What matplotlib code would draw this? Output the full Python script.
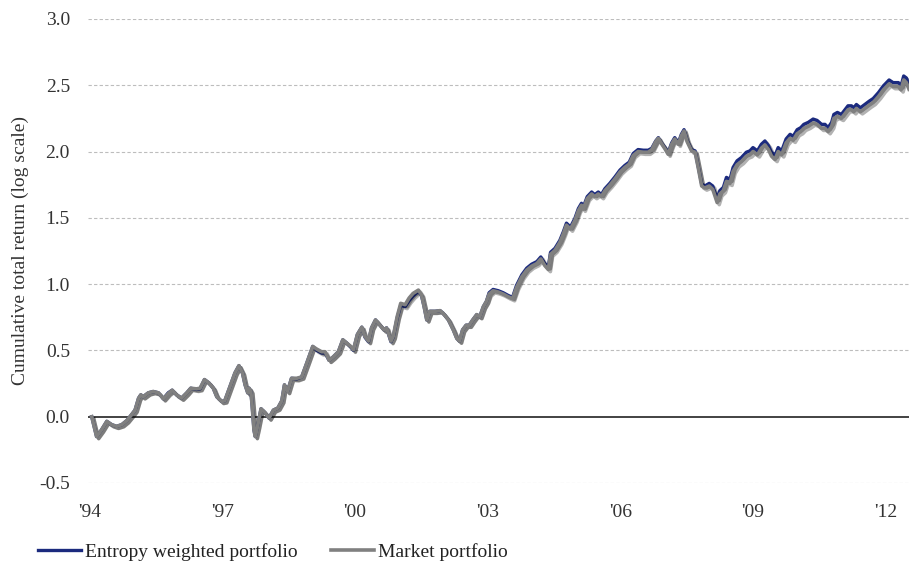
"""Cumulative total return of entropy weighted vs market portfolio."""

import matplotlib

matplotlib.use("Agg")
import matplotlib.pyplot as plt
import matplotlib.patheffects as pe
from matplotlib.lines import Line2D

# decimal year of each observation
dates = [
	1994.04, 1994.15, 1994.26, 1994.38, 1994.49, 1994.60, 1994.72, 1994.83, 1994.94,
	1995.02, 1995.10, 1995.15, 1995.20, 1995.32, 1995.43, 1995.55, 1995.66, 1995.77,
	1995.86, 1995.96, 1996.07, 1996.19, 1996.28, 1996.41, 1996.49, 1996.59, 1996.69,
	1996.79, 1996.87, 1996.98, 1997.05, 1997.17, 1997.28, 1997.37, 1997.45, 1997.51,
	1997.57, 1997.60, 1997.64, 1997.67, 1997.71, 1997.74, 1997.79, 1997.87, 1997.96,
	1998.05, 1998.15, 1998.25, 1998.34, 1998.40, 1998.47, 1998.56, 1998.68, 1998.79,
	1998.90, 1999.04, 1999.13, 1999.24, 1999.32, 1999.41, 1999.50, 1999.62, 1999.72,
	1999.81, 1999.90, 1999.96, 2000.05, 2000.15, 2000.22, 2000.30, 2000.37, 2000.46,
	2000.56, 2000.65, 2000.71, 2000.81, 2000.86, 2000.95, 2001.03, 2001.13, 2001.22,
	2001.31, 2001.43, 2001.50, 2001.56, 2001.62, 2001.69, 2001.81, 2001.92, 2001.99,
	2002.11, 2002.22, 2002.30, 2002.36, 2002.43, 2002.51, 2002.58, 2002.66, 2002.75,
	2002.82, 2002.90, 2002.97, 2003.03, 2003.12, 2003.24, 2003.35, 2003.46, 2003.56,
	2003.65, 2003.77, 2003.88, 2003.99, 2004.11, 2004.20, 2004.29, 2004.37, 2004.42,
	2004.52, 2004.63, 2004.71, 2004.78, 2004.87, 2004.97, 2005.05, 2005.12, 2005.16,
	2005.25, 2005.35, 2005.42, 2005.50, 2005.57, 2005.65, 2005.76, 2005.88, 2005.99,
	2006.10, 2006.20, 2006.29, 2006.40, 2006.52, 2006.63, 2006.71, 2006.80, 2006.86,
	2006.93, 2007.01, 2007.08, 2007.16, 2007.23, 2007.31, 2007.38, 2007.44, 2007.51,
	2007.61, 2007.69, 2007.76, 2007.84, 2007.91, 2008.01, 2008.09, 2008.14, 2008.19,
	2008.25, 2008.33, 2008.40, 2008.48, 2008.55, 2008.64, 2008.74, 2008.85, 2008.93,
	2009.00, 2009.10, 2009.19, 2009.27, 2009.35, 2009.42, 2009.50, 2009.57, 2009.65,
	2009.75, 2009.84, 2009.91, 2010.00, 2010.08, 2010.15, 2010.25, 2010.36, 2010.45,
	2010.55, 2010.63, 2010.70, 2010.78, 2010.83, 2010.91, 2011.00, 2011.08, 2011.15,
	2011.23, 2011.28, 2011.34, 2011.43, 2011.53, 2011.63, 2011.72, 2011.84, 2011.95,
	2012.08, 2012.17, 2012.29, 2012.35, 2012.41, 2012.47, 2012.53,
]

entropy_weighted = [
	0.000, -0.150, -0.100, -0.035, -0.060, -0.073, -0.060, -0.030, 0.015,
	0.050, 0.140, 0.165, 0.150, 0.180, 0.190, 0.180, 0.135, 0.180,
	0.200, 0.165, 0.140, 0.180, 0.215, 0.205, 0.210, 0.280, 0.255,
	0.215, 0.150, 0.115, 0.120, 0.230, 0.330, 0.385, 0.330, 0.240,
	0.180, 0.215, 0.190, 0.080, -0.100, -0.150, -0.075, 0.060, 0.030,
	-0.010, 0.050, 0.065, 0.120, 0.240, 0.190, 0.290, 0.285, 0.300,
	0.400, 0.530, 0.500, 0.480, 0.480, 0.425, 0.450, 0.490, 0.580,
	0.555, 0.525, 0.500, 0.620, 0.675, 0.600, 0.565, 0.670, 0.730,
	0.690, 0.655, 0.670, 0.565, 0.600, 0.745, 0.840, 0.830, 0.875,
	0.910, 0.945, 0.915, 0.830, 0.730, 0.795, 0.795, 0.800, 0.780,
	0.730, 0.655, 0.590, 0.570, 0.655, 0.690, 0.690, 0.730, 0.770,
	0.755, 0.830, 0.870, 0.935, 0.960, 0.950, 0.935, 0.915, 0.900,
	0.990, 1.070, 1.120, 1.150, 1.170, 1.205, 1.155, 1.130, 1.240,
	1.270, 1.330, 1.395, 1.460, 1.430, 1.495, 1.570, 1.610, 1.580,
	1.660, 1.695, 1.675, 1.695, 1.675, 1.720, 1.760, 1.810, 1.860,
	1.895, 1.920, 1.985, 2.015, 2.010, 2.010, 2.025, 2.080, 2.105,
	2.065, 2.030, 1.990, 2.065, 2.105, 2.065, 2.130, 2.165, 2.085,
	2.015, 2.005, 1.890, 1.755, 1.740, 1.760, 1.740, 1.690, 1.645,
	1.705, 1.730, 1.805, 1.790, 1.880, 1.930, 1.955, 1.995, 2.005,
	2.030, 2.005, 2.055, 2.080, 2.045, 1.995, 1.970, 2.030, 2.005,
	2.095, 2.130, 2.115, 2.165, 2.180, 2.205, 2.220, 2.245, 2.235,
	2.205, 2.205, 2.180, 2.220, 2.280, 2.295, 2.280, 2.315, 2.345,
	2.345, 2.330, 2.355, 2.330, 2.355, 2.380, 2.400, 2.445, 2.495,
	2.540, 2.520, 2.520, 2.495, 2.570, 2.555, 2.505,
]

market = [
	0.000, -0.150, -0.100, -0.035, -0.060, -0.073, -0.060, -0.030, 0.015,
	0.050, 0.140, 0.165, 0.150, 0.180, 0.190, 0.180, 0.135, 0.175,
	0.200, 0.165, 0.140, 0.180, 0.215, 0.210, 0.215, 0.280, 0.255,
	0.215, 0.150, 0.115, 0.120, 0.230, 0.330, 0.385, 0.330, 0.240,
	0.180, 0.215, 0.190, 0.080, -0.100, -0.150, -0.075, 0.060, 0.030,
	-0.010, 0.050, 0.065, 0.120, 0.240, 0.190, 0.290, 0.290, 0.300,
	0.400, 0.530, 0.510, 0.490, 0.490, 0.425, 0.450, 0.490, 0.580,
	0.555, 0.530, 0.505, 0.620, 0.675, 0.605, 0.570, 0.670, 0.730,
	0.690, 0.655, 0.670, 0.570, 0.605, 0.755, 0.855, 0.845, 0.895,
	0.930, 0.955, 0.920, 0.830, 0.730, 0.795, 0.795, 0.800, 0.780,
	0.730, 0.655, 0.590, 0.570, 0.655, 0.690, 0.690, 0.730, 0.770,
	0.755, 0.830, 0.870, 0.925, 0.950, 0.940, 0.925, 0.905, 0.890,
	0.975, 1.055, 1.105, 1.135, 1.155, 1.190, 1.140, 1.110, 1.225,
	1.255, 1.315, 1.380, 1.445, 1.415, 1.480, 1.555, 1.595, 1.565,
	1.645, 1.680, 1.660, 1.680, 1.660, 1.705, 1.745, 1.795, 1.845,
	1.880, 1.905, 1.970, 2.000, 1.995, 1.995, 2.015, 2.075, 2.100,
	2.060, 2.020, 1.980, 2.055, 2.095, 2.055, 2.120, 2.155, 2.075,
	2.005, 1.995, 1.880, 1.740, 1.725, 1.740, 1.715, 1.665, 1.615,
	1.680, 1.705, 1.775, 1.760, 1.850, 1.900, 1.925, 1.965, 1.975,
	2.000, 1.975, 2.025, 2.050, 2.015, 1.965, 1.940, 2.000, 1.975,
	2.065, 2.100, 2.085, 2.135, 2.150, 2.175, 2.190, 2.215, 2.205,
	2.175, 2.175, 2.150, 2.190, 2.250, 2.265, 2.250, 2.285, 2.315,
	2.315, 2.300, 2.325, 2.300, 2.325, 2.350, 2.370, 2.415, 2.465,
	2.510, 2.490, 2.490, 2.465, 2.540, 2.520, 2.470,
]

tick_years = [1994, 1997, 2000, 2003, 2006, 2009, 2012]
tick_labels = ["'94", "'97", "'00", "'03", "'06", "'09", "'12"]
y_ticks = [-0.5, 0.0, 0.5, 1.0, 1.5, 2.0, 2.5, 3.0]

entropy_color = "#1b2a7e"
market_color = "#808080"

plt.rcParams["font.family"] = ["Liberation Serif", "DejaVu Serif"]
plt.rcParams["font.size"] = 14

fig = plt.figure(figsize=(9.09, 5.63), dpi=100)
ax = fig.add_axes([0.0968, 0.1421, 0.9032, 0.8242])

shadow = [pe.SimpleLineShadow(offset=(1.5, -1.5), alpha=0.3), pe.Normal()]
ax.plot(dates, entropy_weighted, color=entropy_color, lw=2.4,
	path_effects=shadow, zorder=2, solid_joinstyle="round")
ax.plot(dates, market, color=market_color, lw=2.6,
	path_effects=shadow, zorder=3, solid_joinstyle="round")

for value in y_ticks:
	if value == 0.0:
		ax.axhline(value, color="#222222", lw=1.2, zorder=1)
	else:
		ax.axhline(value, color="#bdbdbd", lw=0.8, ls=(0, (3, 2)), zorder=0)

ax.set_xlim(1993.955, 2012.53)
ax.set_ylim(-0.5, 3.0)
ax.set_xticks(tick_years)
ax.set_xticklabels(tick_labels)
ax.set_yticks(y_ticks)
ax.set_yticklabels([f"{v:.1f}" for v in y_ticks])
ax.tick_params(axis="both", length=0, colors="#333333")
ax.tick_params(axis="x", pad=15)
ax.tick_params(axis="y", pad=13)
for spine in ax.spines.values():
	spine.set_visible(False)
ax.set_ylabel("Cumulative total return (log scale)", color="#333333", labelpad=7)

handles = [
	Line2D([], [], color=entropy_color, lw=2.4),
	Line2D([], [], color=market_color, lw=2.6),
]
fig.legend(handles, ["Entropy weighted portfolio", "Market portfolio"],
	loc="lower left", bbox_to_anchor=(0.031, -0.013), ncol=2, frameon=False,
	handlelength=2.2, handletextpad=0.2, columnspacing=1.75, borderpad=0.0,
	labelcolor="#222222")

fig.savefig("out.png", dpi=100)
